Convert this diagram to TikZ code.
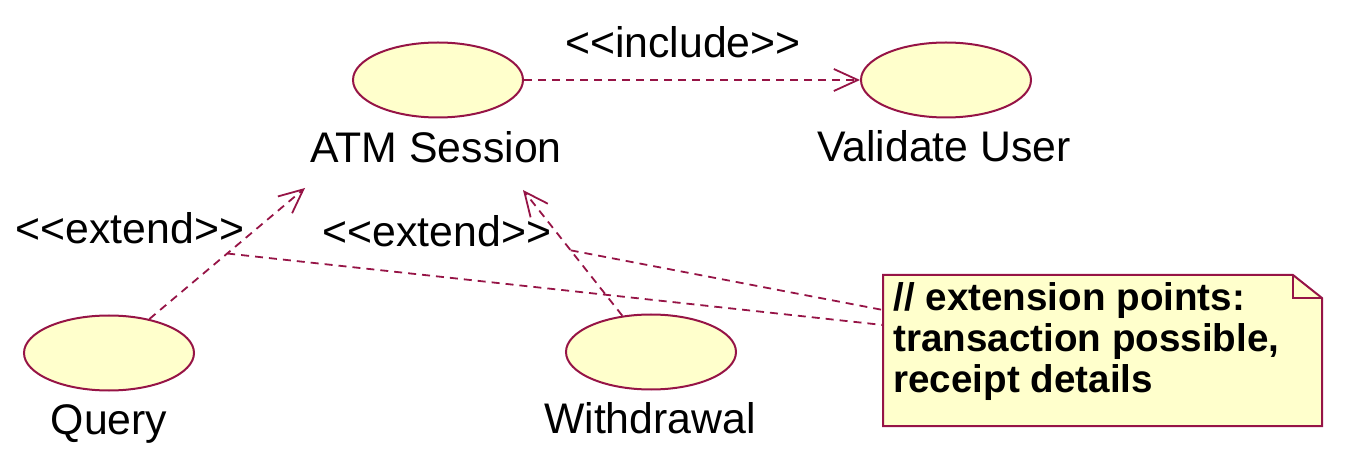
\documentclass[tikz,border=0pt]{standalone}
\usepackage{fontspec}
\setmainfont{Liberation Sans}
\usetikzlibrary{shapes.geometric,arrows.meta}
\definecolor{umlred}{RGB}{150,20,70}
\definecolor{umlfill}{RGB}{255,255,204}

\begin{document}
\begin{tikzpicture}[x=0.5pt, y=-0.5pt,
  every node/.style={font=\fontsize{21.4}{20.5}\selectfont},
  usecase/.style={ellipse, draw=umlred, fill=umlfill, line width=1pt, minimum width=85pt, minimum height=37.5pt, inner sep=0pt},
  lbl/.style={anchor=base, inner sep=0pt},
  dep/.style={umlred, line width=0.9pt, dash pattern=on 4pt off 3pt},
  deparrow/.style={-{Straight Barb[length=12pt, width=11pt, line width=0.9pt]}},
  notebox/.style={draw=umlred, fill=umlfill, line width=1pt}]
  \useasboundingbox (0,0) rectangle (1350,470);

  % Use cases
  \node[usecase] (atm) at (438,80) {};
  \node[usecase] (valid) at (946,80) {};
  \node[usecase] (query) at (109,353) {};
  \node[usecase] (withdraw) at (651,352) {};

  % names below the ellipses
  \node[lbl] (atmlbl) at (436,163) {ATM Session};
  \node[lbl] (validlbl) at (944,162) {Validate User};
  \node[lbl] (querylbl) at (109,435) {Query};
  \node[lbl] (withdrawlbl) at (650,433) {Withdrawal};

  % Note with folded corner
  \draw[notebox] (883,275) -- (1293,275) -- (1322,298) -- (1322,426) -- (883,426) -- cycle;
  \draw[notebox, fill=none] (1293,275) -- (1293,298) -- (1322,298);
  \node[anchor=north west, inner sep=0pt, align=left, font=\fontsize{19.3}{20.5}\selectfont\bfseries] (note) at (893,282)
    {// extension points:\\transaction possible,\\receipt details};
  \coordinate (noteup) at (883,310);
  \coordinate (notelow) at (883,325);

  % Include
  \draw[dep, deparrow] (atm) -- (valid);
  \node[lbl] (inclbl) at (683,58) {<{}<include>{}>};

  % Extends (free ends under ATM Session)
  \coordinate (atmq) at (305,188);
  \coordinate (atmw) at (523,190);
  \draw[dep, deparrow] (query) -- coordinate[pos=0.5] (qmid) (atmq);
  \draw[dep, deparrow] (withdraw) -- coordinate[pos=0.52] (wmid) (atmw);
  \node[lbl] (extlblq) at (130,244) {<{}<extend>{}>};
  \node[lbl] (extlblw) at (437,247) {<{}<extend>{}>};

  % Note anchors
  \draw[dep] (wmid) -- (noteup);
  \draw[dep] (qmid) -- (notelow);
\end{tikzpicture}
\end{document}
